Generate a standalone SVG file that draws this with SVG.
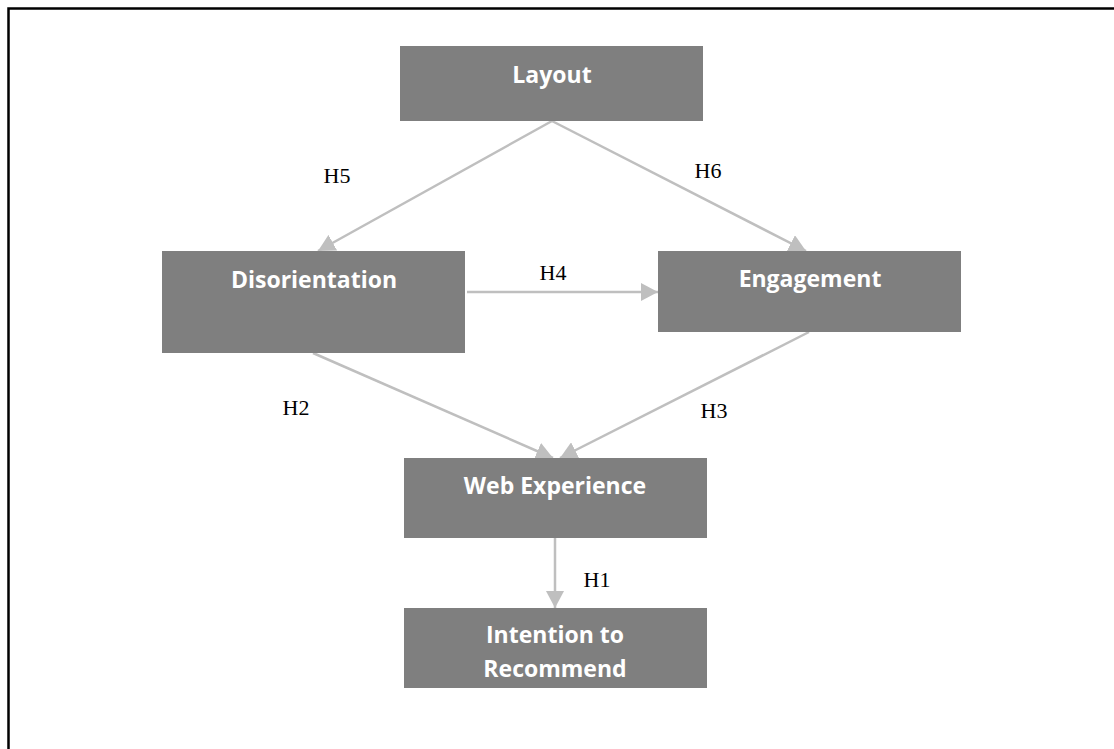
<svg xmlns="http://www.w3.org/2000/svg" width="1114" height="749" viewBox="0 0 1114 749">
<style>
.node{fill:#7f7f7f}
.nt{font-family:"Open Sans","Liberation Sans",sans-serif;font-weight:bold;font-size:23px;fill:#ffffff;text-anchor:middle}
.lbl{font-family:"Liberation Serif","Times New Roman",serif;font-size:22px;fill:#000000;text-anchor:middle}
.edge{stroke:#bfbfbf;stroke-width:2.5;fill:none;marker-end:url(#arr)}
</style>
<defs>
<marker id="arr" markerUnits="userSpaceOnUse" markerWidth="18" markerHeight="18" refX="17" refY="9" orient="auto">
<path d="M0,0 L17,9 L0,18 Z" fill="#bfbfbf"/>
</marker>
</defs>
<rect x="0" y="0" width="1114" height="749" fill="#ffffff"/>
<rect x="8.5" y="8.5" width="1130" height="770" fill="none" stroke="#000000" stroke-width="2.5"/>
<g id="connectors">
<line class="edge" x1="552" y1="121" x2="318" y2="251"/>
<line class="edge" x1="552" y1="121" x2="806" y2="251"/>
<line class="edge" x1="467" y1="292" x2="658" y2="292"/>
<line class="edge" x1="313" y1="353" x2="553" y2="458"/>
<line class="edge" x1="809" y1="332" x2="560" y2="458"/>
<line class="edge" x1="555" y1="538" x2="555" y2="608"/>
<text class="lbl" x="337" y="183">H5</text>
<text class="lbl" x="708" y="178">H6</text>
<text class="lbl" x="553" y="280">H4</text>
<text class="lbl" x="296" y="415">H2</text>
<text class="lbl" x="714" y="418">H3</text>
<text class="lbl" x="597" y="587">H1</text>
</g>
<g id="layout">
<rect class="node" x="400" y="46" width="303" height="75"/>
<text class="nt" x="552" y="83">Layout</text>
</g>
<g id="disorientation">
<rect class="node" x="162" y="251" width="303" height="102"/>
<text class="nt" x="314" y="288">Disorientation</text>
</g>
<g id="engagement">
<rect class="node" x="658" y="251" width="303" height="81"/>
<text class="nt" x="810" y="287">Engagement</text>
</g>
<g id="web-experience">
<rect class="node" x="404" y="458" width="303" height="80"/>
<text class="nt" x="555" y="494">Web Experience</text>
</g>
<g id="intention">
<rect class="node" x="404" y="608" width="303" height="80"/>
<text class="nt" x="555" y="643">Intention to</text>
<text class="nt" x="555" y="677">Recommend</text>
</g>
</svg>
